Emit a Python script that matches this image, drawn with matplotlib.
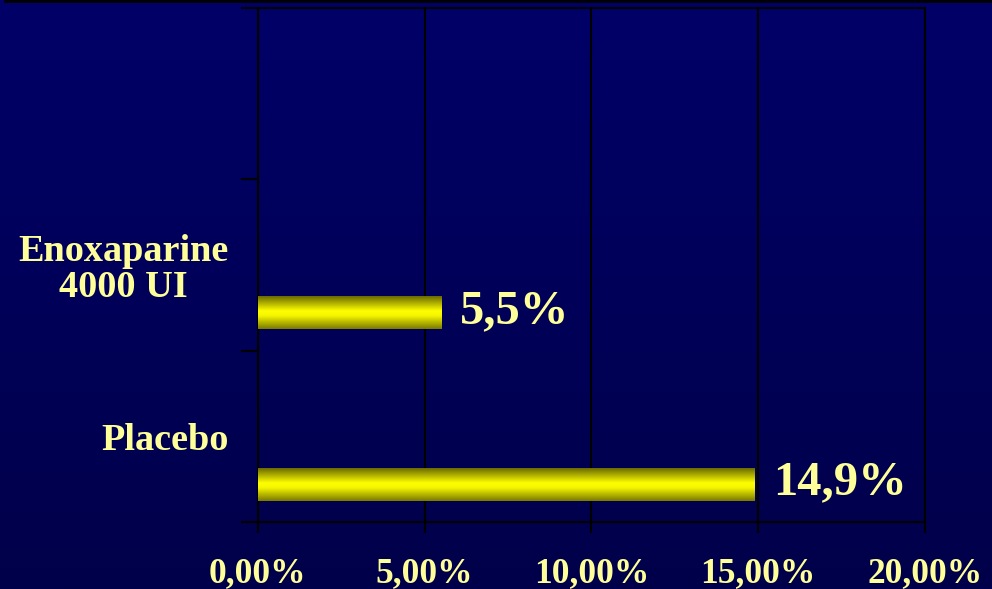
import numpy as np
import matplotlib
matplotlib.use("Agg")
from matplotlib import pyplot as plt
from matplotlib.colors import LinearSegmentedColormap
from matplotlib.lines import Line2D

categories = ["Placebo", "Enoxaparine\n4000 UI", ""]
values = [14.9, 5.5, None]
value_labels = ["14,9%", "5,5%", ""]
x_ticks = [0, 5, 10, 15, 20]
x_tick_labels = ["0,00%", "5,00%", "10,00%", "15,00%", "20,00%"]

txt_color = "#FFFF99"
plt.rcParams["font.family"] = ["Liberation Serif", "DejaVu Serif"]
plt.rcParams["font.weight"] = "bold"

fig = plt.figure(figsize=(9.92, 5.89), dpi=100)

# background gradient for whole figure
bg = fig.add_axes([0, 0, 1, 1], zorder=-10)
grad = np.linspace(0, 1, 256).reshape(-1, 1)
bg_cmap = LinearSegmentedColormap.from_list("bg", ["#000068", "#00004a"])
bg.imshow(grad, aspect="auto", cmap=bg_cmap, extent=[0, 1, 0, 1])
bg.set_axis_off()
fig.add_artist(Line2D([0.005, 1], [0.998, 0.998], color="black", lw=2, transform=fig.transFigure))

ax = fig.add_axes([0.260, 0.1138, 0.6724, 0.8726])
ax.patch.set_alpha(0)

bar_cmap = LinearSegmentedColormap.from_list(
    "bar", [(0, "#6b6b00"), (0.45, "#ffff00"), (0.6, "#f5f500"), (1, "#7a7a00")])
bar_grad = np.linspace(0, 1, 64).reshape(-1, 1)
offset = 0.28
h = 0.19
for i, v in enumerate(values):
    if v is None:
        continue
    yc = i - offset
    ax.imshow(bar_grad, aspect="auto", cmap=bar_cmap, origin="upper",
              extent=[0, v, yc - h / 2, yc + h / 2], zorder=3, interpolation="bicubic")
    ax.text(v + 0.55, yc + 0.01, value_labels[i], color=txt_color, fontsize=35,
            fontweight="bold", va="center", ha="left", zorder=4)

ax.set_xlim(0, 20)
ax.set_ylim(-0.5, 2.5)
ax.set_xticks(x_ticks)
ax.set_xticklabels(x_tick_labels, color=txt_color, fontsize=25.5, fontweight="bold")
ax.tick_params(axis="x", length=8, width=1.5, color="black", pad=17)

ax.set_yticks([-0.5, 0.5, 1.5, 2.5])
ax.set_yticklabels([])
ax.set_yticks(range(len(categories)), minor=True)
ax.set_yticklabels(categories, minor=True, color=txt_color, fontsize=27.5,
                   fontweight="bold", ha="right", multialignment="center",
                   linespacing=1.05)
ax.tick_params(axis="y", which="major", length=12, width=1.5, color="black")
ax.tick_params(axis="y", which="minor", length=0, pad=21)

ax.grid(axis="x", color="black", lw=1.5, zorder=1)
for s in ax.spines.values():
    s.set_color("black")
    s.set_linewidth(1.5)

fig.savefig("out.png", dpi=100)
